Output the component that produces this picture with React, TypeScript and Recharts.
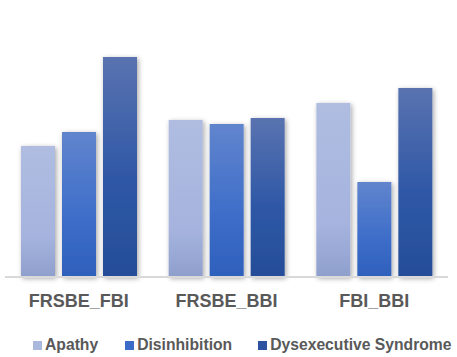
import React from "react";
import { BarChart, Bar, XAxis, YAxis, Legend } from "recharts";

const categories = ["FRSBE_FBI", "FRSBE_BBI", "FBI_BBI"];
const apathy = [131, 157, 174];
const disinhibition = [145, 153, 95];
const dysexecutive = [220, 159, 189];

const seriesNames = ["Apathy", "Disinhibition", "Dysexecutive Syndrome"];
const seriesKeys = ["apathy", "disinhibition", "dysexecutive"];
const legendColors = ["#aab8de", "#3a6cc8", "#2c52a0"];

const data = categories.map((name, i) => ({
    name,
    apathy: apathy[i],
    disinhibition: disinhibition[i],
    dysexecutive: dysexecutive[i],
}));

const FONT = "'Liberation Sans', Arial, sans-serif";

function CategoryTick(props: any) {
    const { x, y, payload } = props;
    return (
        <text x={x} y={y + 22} textAnchor="middle" fontFamily={FONT} fontWeight="bold" fontSize={18} fill="#595959">
            {payload.value}
        </text>
    );
}

function ChartLegend() {
    return (
        <div style={{ display: "flex", height: 24, alignItems: "center", paddingLeft: 28, fontFamily: FONT, fontWeight: "bold", fontSize: 15.7, color: "#595959", whiteSpace: "nowrap" }}>
            {seriesNames.map((n, i) => (
                <div key={n} style={{ display: "flex", alignItems: "center", marginRight: i === 0 ? 27 : 26 }}>
                    <span style={{ width: 9, height: 9, background: legendColors[i], marginRight: 3, display: "inline-block" }} />
                    <span>{n}</span>
                </div>
            ))}
        </div>
    );
}

export default function App() {
    return (
        <div style={{ position: "absolute", left: 0, top: 0, width: 457, height: 357, background: "#fff" }}>
            <BarChart
                width={457}
                height={357}
                data={data}
                margin={{ top: 17, right: 9, left: 5, bottom: 0 }}
                barSize={34}
                barGap={7}
            >
                <defs>
                    <linearGradient id="gApathy" x1="0" y1="0" x2="0" y2="1">
                        <stop offset="0%" stopColor="#b0bde1" />
                        <stop offset="70%" stopColor="#a5b3de" />
                        <stop offset="100%" stopColor="#8f9fcc" />
                    </linearGradient>
                    <linearGradient id="gDisinh" x1="0" y1="0" x2="0" y2="1">
                        <stop offset="0%" stopColor="#6185cd" />
                        <stop offset="60%" stopColor="#3d6dc9" />
                        <stop offset="100%" stopColor="#2e60bc" />
                    </linearGradient>
                    <linearGradient id="gDysex" x1="0" y1="0" x2="0" y2="1">
                        <stop offset="0%" stopColor="#5a73b0" />
                        <stop offset="55%" stopColor="#2e58a6" />
                        <stop offset="100%" stopColor="#264d98" />
                    </linearGradient>
                    <filter id="shadow" x="-30%" y="-10%" width="160%" height="125%">
                        <feDropShadow dx="1.5" dy="1.5" stdDeviation="2.5" floodColor="#000" floodOpacity="0.35" />
                    </filter>
                </defs>
                <XAxis
                    dataKey="name"
                    tickLine={false}
                    axisLine={{ stroke: "#d9d9d9", strokeWidth: 2 }}
                    tick={<CategoryTick />}
                    height={56}
                    interval={0}
                />
                <YAxis hide domain={[0, 260]} />
                <Legend verticalAlign="bottom" height={24} content={<ChartLegend />} />
                <Bar dataKey={seriesKeys[0]} name={seriesNames[0]} fill="url(#gApathy)" filter="url(#shadow)" isAnimationActive={false} />
                <Bar dataKey={seriesKeys[1]} name={seriesNames[1]} fill="url(#gDisinh)" filter="url(#shadow)" isAnimationActive={false} />
                <Bar dataKey={seriesKeys[2]} name={seriesNames[2]} fill="url(#gDysex)" filter="url(#shadow)" isAnimationActive={false} />
            </BarChart>
        </div>
    );
}
